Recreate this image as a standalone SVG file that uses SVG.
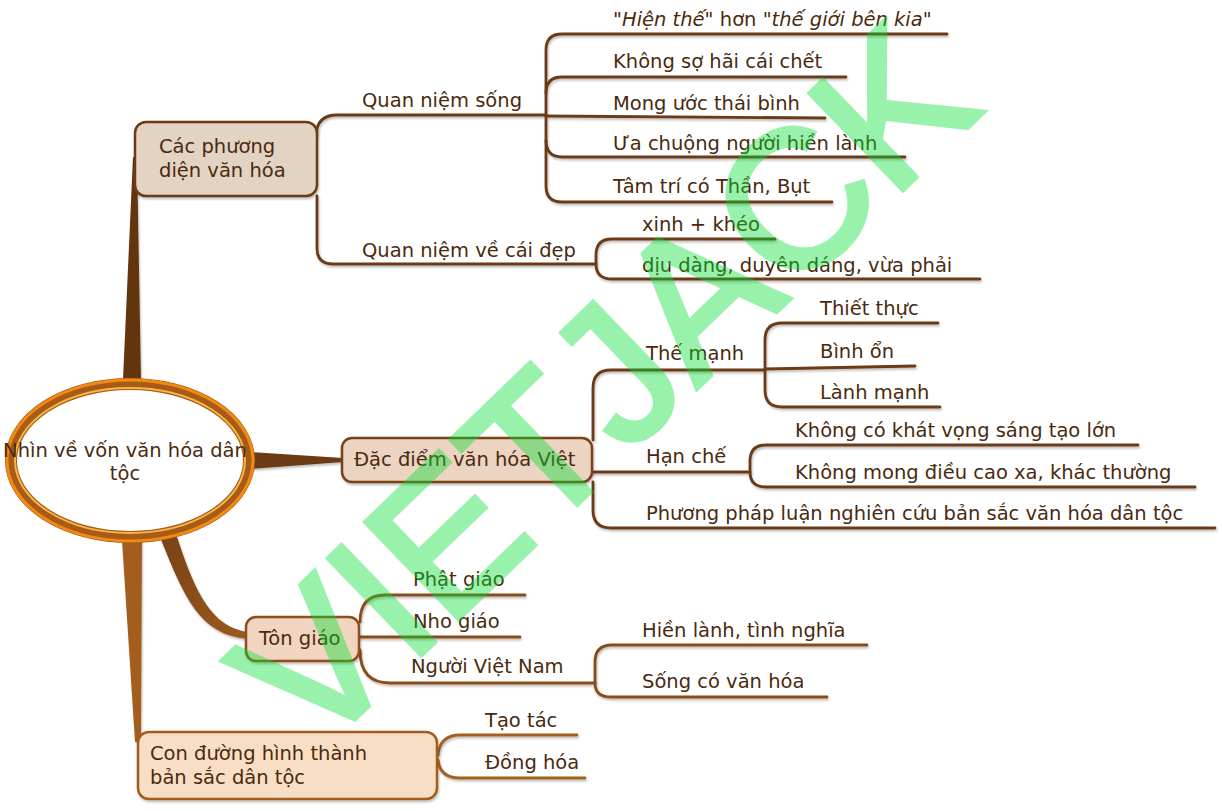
<svg xmlns="http://www.w3.org/2000/svg" width="1222" height="811" viewBox="0 0 1222 811">
<defs>
<style>
.t{font-family:"DejaVu Sans","Liberation Sans",sans-serif;font-size:19.5px;fill:#4a2a0e}
.c1{fill:none;stroke:#6b3a12;stroke-width:2.8;stroke-linecap:round}
.c2{fill:none;stroke:#8b4c18;stroke-width:2.8;stroke-linecap:round}
.c3{fill:none;stroke:#a3601e;stroke-width:2.8;stroke-linecap:round}
.box{stroke-width:2.5}
</style>
<filter id="sh" x="-5%" y="-20%" width="110%" height="140%">
<feDropShadow dx="1" dy="2" stdDeviation="1" flood-color="#000" flood-opacity="0.25"/>
</filter>
<linearGradient id="g3" x1="0" y1="0" x2="1" y2="1">
<stop offset="0" stop-color="#7a4214"/><stop offset="1" stop-color="#9b5a20"/>
</linearGradient>
</defs>
<rect width="1222" height="811" fill="#fff"/>
<g id="connectors" filter="url(#sh)">
<polygon points="123,380 141,380 137,157 133,157" fill="#643510"/>
<polygon points="250,452 343,458 343,462 250,469" fill="#6b3a12"/>
<path d="M160,537 C185,600 200,634 247,639 L247,632 C212,626 196,595 177,537 Z" fill="url(#g3)"/>
<polygon points="122,540 142,540 141,742 135,742" fill="#a35d1d"/>
<path class="c1" d="M316,135 Q317,115 337,115 L546,115"/>
<path class="c1" d="M546,115 L546,50 Q546,34 562,34 L947,34"/>
<path class="c1" d="M546,93 Q546,77 562,77 L846,77"/>
<path class="c1" d="M546,116 L825,118"/>
<path class="c1" d="M546,140 Q546,157 562,157 L905,157"/>
<path class="c1" d="M546,115 L546,186 Q546,202 562,202 L832,202"/>
<path class="c1" d="M317,196 L317,248 Q317,264 333,264 L596,264"/>
<path class="c1" d="M596,264 L596,255 Q596,239 612,239 L775,239"/>
<path class="c1" d="M596,264 Q596,279 612,279 L980,279"/>
<path class="c1" d="M593,440 L593,388 Q593,370 611,370 L765,370"/>
<path class="c1" d="M592,472 L750,472"/>
<path class="c1" d="M593,482 L593,510 Q593,528 611,528 L1215,528"/>
<path class="c1" d="M765,370 L765,340 Q765,323 782,323 L938,323"/>
<path class="c1" d="M765,369 L915,366"/>
<path class="c1" d="M765,370 L765,390 Q765,407 782,407 L940,407"/>
<path class="c1" d="M750,472 L750,461 Q750,445 766,445 L1138,445"/>
<path class="c1" d="M750,472 Q750,487 766,487 L1195,487"/>
<path class="c2" d="M360,622 Q360,595 385,595 L525,595"/>
<path class="c2" d="M359,637 L520,637"/>
<path class="c2" d="M360,650 Q360,683 390,683 L595,683"/>
<path class="c2" d="M595,683 L595,662 Q595,645 612,645 L867,645"/>
<path class="c2" d="M595,683 Q595,697 611,697 L827,697"/>
<path class="c3" d="M438,755 Q440,735 460,735 L577,735"/>
<path class="c3" d="M438,760 Q440,778 460,778 L585,778"/>
</g>
<g id="root">
<ellipse cx="130" cy="460.5" rx="119" ry="76.5" fill="#fff" stroke="#a85a18" stroke-width="12"/>
<ellipse cx="130" cy="460.5" rx="123" ry="80.5" fill="none" stroke="#f08a10" stroke-width="3"/>
<ellipse cx="130" cy="460.5" rx="115" ry="72.5" fill="none" stroke="#f5b840" stroke-width="2"/>
<text class="t" x="125" y="457" text-anchor="middle">Nhìn về vốn văn hóa dân</text>
<text class="t" x="125" y="480" text-anchor="middle">tộc</text>
</g>
<g id="n-cacphuong">
<rect class="box" x="135" y="122" width="182" height="74" rx="11" fill="#e3d3c2" stroke="#6b3a14" filter="url(#sh)"/>
<text class="t" x="159" y="153">Các phương</text>
<text class="t" x="159" y="177">diện văn hóa</text>
</g>
<g id="n-quanniemsong"><text class="t" x="362" y="107">Quan niệm sống</text></g>
<g id="n-hienthe"><text class="t" x="613" y="26"><tspan font-style="italic">"Hiện thế"</tspan> hơn <tspan font-style="italic">"thế giới bên kia"</tspan></text></g>
<g id="n-khongso"><text class="t" x="613" y="68">Không sợ hãi cái chết</text></g>
<g id="n-mong"><text class="t" x="613" y="110">Mong ước thái bình</text></g>
<g id="n-ua"><text class="t" x="613" y="150">Ưa chuộng người hiền lành</text></g>
<g id="n-tamtri"><text class="t" x="613" y="193">Tâm trí có Thần, Bụt</text></g>
<g id="n-caidep"><text class="t" x="362" y="257">Quan niệm về cái đẹp</text></g>
<g id="n-xinh"><text class="t" x="642" y="231">xinh + khéo</text></g>
<g id="n-diu"><text class="t" x="642" y="272">dịu dàng, duyên dáng, vừa phải</text></g>
<g id="n-dacdiem">
<rect class="box" x="342" y="438" width="250" height="44" rx="10" fill="#ebd4c2" stroke="#7a4216" filter="url(#sh)"/>
<text class="t" x="354" y="466">Đặc điểm văn hóa Việt</text>
</g>
<g id="n-themanh"><text class="t" x="646" y="360">Thế mạnh</text></g>
<g id="n-thietthuc"><text class="t" x="820" y="315">Thiết thực</text></g>
<g id="n-binhon"><text class="t" x="820" y="358">Bình ổn</text></g>
<g id="n-lanhmanh"><text class="t" x="820" y="399">Lành mạnh</text></g>
<g id="n-hanche"><text class="t" x="646" y="463">Hạn chế</text></g>
<g id="n-khongco"><text class="t" x="795" y="437">Không có khát vọng sáng tạo lớn</text></g>
<g id="n-khongmong"><text class="t" x="795" y="479">Không mong điều cao xa, khác thường</text></g>
<g id="n-phuongphap"><text class="t" x="646" y="520">Phương pháp luận nghiên cứu bản sắc văn hóa dân tộc</text></g>
<g id="n-tongiao">
<rect class="box" x="246" y="617" width="113" height="44" rx="10" fill="#f2d5c0" stroke="#8e4e1c" filter="url(#sh)"/>
<text class="t" x="259" y="645">Tôn giáo</text>
</g>
<g id="n-phat"><text class="t" x="413" y="586">Phật giáo</text></g>
<g id="n-nho"><text class="t" x="413" y="628">Nho giáo</text></g>
<g id="n-nguoivn"><text class="t" x="411" y="673">Người Việt Nam</text></g>
<g id="n-hienlanh"><text class="t" x="642" y="637">Hiền lành, tình nghĩa</text></g>
<g id="n-song"><text class="t" x="642" y="688">Sống có văn hóa</text></g>
<g id="n-conduong">
<rect class="box" x="138" y="732" width="299" height="67" rx="11" fill="#f9dec6" stroke="#a35c1e" filter="url(#sh)"/>
<text class="t" x="150" y="760">Con đường hình thành</text>
<text class="t" x="150" y="784">bản sắc dân tộc</text>
</g>
<g id="n-taotac"><text class="t" x="485" y="727">Tạo tác</text></g>
<g id="n-donghoa"><text class="t" x="485" y="769">Đồng hóa</text></g>
<g id="watermark" opacity="0.4">
<text x="650" y="434" text-anchor="middle" transform="rotate(-44 650 434)" font-family="Liberation Sans, sans-serif" font-size="195" fill="#00e030" stroke="#00e030" stroke-width="5">VIETJACK</text>
</g>
</svg>
